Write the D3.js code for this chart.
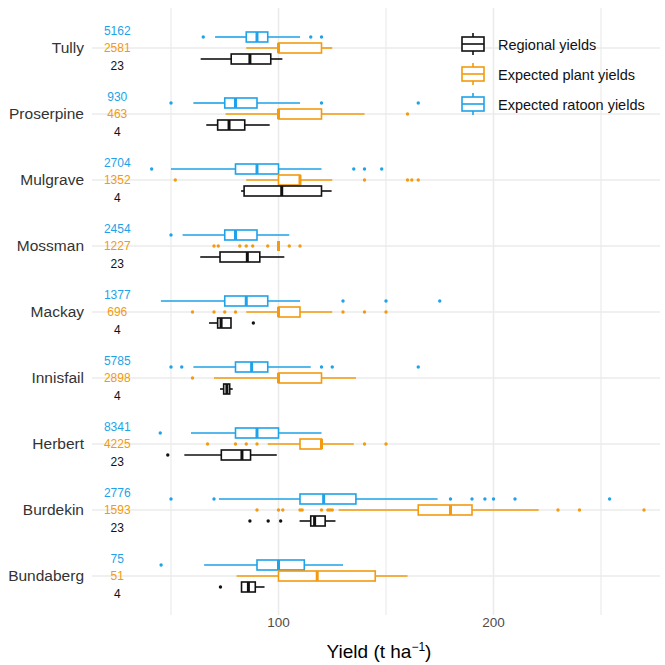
<!DOCTYPE html>
<html lang="en">
<head>
    <meta charset="UTF-8">
    <title>Yield boxplots by region</title>
    <script src="https://d3js.org/d3.v7.min.js"></script>
    <style>
        body { margin: 0; background: #fff; font-family: Arial, "Liberation Sans", sans-serif; }
        svg { display: block; }
    </style>
</head>
<body>
<div id="chart"></div>
<script>
    // regions, top to bottom
    const regions = ["Tully", "Proserpine", "Mulgrave", "Mossman", "Mackay", "Innisfail", "Herbert", "Burdekin", "Bundaberg"];

    // box stats per region: [lower whisker, q1, median, q3, upper whisker]
    const ratoonStats = [
        [70.5, 85, 90, 95, 110],
        [60.4, 75, 80, 90, 110],
        [50, 80, 90, 100, 120],
        [55.4, 75, 80, 90, 105],
        [45.3, 75, 85, 95, 110],
        [60.4, 80, 87.5, 95, 115],
        [59.3, 80, 90, 100, 120],
        [72.3, 110, 121, 136, 174],
        [65.4, 90, 100, 112, 130]
    ];
    const plantStats = [
        [85, 100, 100, 120, 125],
        [75.4, 100, 100, 120, 140],
        [85, 100, 110, 110, 125],
        [100, 100, 100, 100, 100],
        [85, 100, 100, 110, 125],
        [70, 100, 100, 120, 136],
        [95, 110, 120, 120, 135],
        [128, 165, 180, 190, 221],
        [80.5, 100, 118, 145, 160]
    ];
    const regionalStats = [
        [63.8, 78, 86.7, 96.4, 101.8],
        [66.4, 71.7, 77, 84.3, 95.9],
        [82.6, 84, 101.5, 120, 124.7],
        [63.6, 72.8, 85.5, 91.3, 102.7],
        [67.7, 71.7, 73.3, 77.9, 77.9],
        [72.8, 74.5, 76, 77.3, 78.7],
        [56.2, 73.4, 83, 87, 99.2],
        [109.8, 115, 116.8, 121.7, 126.5],
        [82.8, 82.8, 86, 89.2, 93.5]
    ];

    // outliers
    const ratoonOut = [
        [65, 115, 120],
        [50, 120, 165],
        [41, 135, 140, 148],
        [50],
        [130, 150, 175],
        [50, 55, 120, 125, 165],
        [45],
        [50, 70, 180, 190, 196, 200, 210, 254],
        [45.4]
    ];
    const plantOut = [
        [],
        [160],
        [52, 140, 160, 162, 165],
        [70, 72, 82, 85, 88, 95, 105, 110],
        [60, 70, 75, 80, 130, 140, 150],
        [60],
        [67, 80, 85, 90, 140, 150],
        [90, 100, 102, 110, 111, 120, 123, 124, 125, 230, 240, 270],
        []
    ];
    const regionalOut = [
        [], [], [], [],
        [88.3],
        [],
        [48.5],
        [86.7, 95.2, 101],
        [73]
    ];

    // sample counts
    const ratoonN = [5162, 930, 2704, 2454, 1377, 5785, 8341, 2776, 75];
    const plantN = [2581, 463, 1352, 1227, 696, 2898, 4225, 1593, 51];
    const regionalN = [23, 4, 4, 23, 4, 4, 23, 23, 4];

    const xTicks = [100, 200];
    const xMinor = [50, 150, 250];

    const colors = { ratoon: "#1ea2e8", plant: "#f39a0e", regional: "#111111" };

    const width = 665, height = 665;
    const panel = { left: 92, right: 660, top: 8, bottom: 615 };

    const svg = d3.select("#chart").append("svg")
        .attr("width", width)
        .attr("height", height);

    const x = d3.scaleLinear().domain([50, 250]).range([171, 601]);
    const y = d3.scalePoint().domain(regions).range([48, 576]);

    // dy: box offset, ly: count label offset
    const series = [
        { key: "ratoon", stats: ratoonStats, out: ratoonOut, n: ratoonN, dy: -11, ly: -17 },
        { key: "plant", stats: plantStats, out: plantOut, n: plantN, dy: 0, ly: 0 },
        { key: "regional", stats: regionalStats, out: regionalOut, n: regionalN, dy: 11, ly: 17.5 }
    ];

    // grid
    const grid = svg.append("g");
    grid.selectAll(".minor").data(xMinor).enter().append("line")
        .attr("x1", d => x(d)).attr("x2", d => x(d))
        .attr("y1", panel.top).attr("y2", panel.bottom)
        .attr("stroke", "#ebebeb").attr("stroke-width", 1.2);
    grid.selectAll(".major").data(xTicks).enter().append("line")
        .attr("x1", d => x(d)).attr("x2", d => x(d))
        .attr("y1", panel.top).attr("y2", panel.bottom)
        .attr("stroke", "#ebebeb").attr("stroke-width", 1.6);
    grid.selectAll(".hgrid").data(regions).enter().append("line")
        .attr("x1", panel.left).attr("x2", panel.right)
        .attr("y1", d => y(d)).attr("y2", d => y(d))
        .attr("stroke", "#ebebeb").attr("stroke-width", 1.6);

    const boxH = 10;

    series.forEach(s => {
        const g = svg.append("g").attr("stroke", colors[s.key]).attr("fill", colors[s.key]);
        regions.forEach((r, i) => {
            const cy = y(r) + s.dy;
            const [lo, q1, med, q3, hi] = s.stats[i];
            // whiskers
            g.append("line").attr("x1", x(lo)).attr("x2", x(q1)).attr("y1", cy).attr("y2", cy)
                .attr("stroke-width", 1.6);
            g.append("line").attr("x1", x(q3)).attr("x2", x(hi)).attr("y1", cy).attr("y2", cy)
                .attr("stroke-width", 1.6);
            // box
            g.append("rect")
                .attr("x", x(q1)).attr("y", cy - boxH / 2)
                .attr("width", Math.max(0, x(q3) - x(q1))).attr("height", boxH)
                .attr("fill", "#fff").attr("stroke-width", 1.6);
            // median
            g.append("line").attr("x1", x(med)).attr("x2", x(med))
                .attr("y1", cy - boxH / 2).attr("y2", cy + boxH / 2)
                .attr("stroke-width", 3);
            // outliers
            g.selectAll(null).data(s.out[i]).enter().append("circle")
                .attr("cx", d => x(d)).attr("cy", cy).attr("r", 1.7)
                .attr("stroke", "none");
            // count label
            svg.append("text")
                .attr("x", x(25)).attr("y", y(r) + s.ly)
                .attr("dy", "0.35em")
                .attr("text-anchor", "middle")
                .attr("font-size", 12)
                .attr("fill", colors[s.key])
                .text(s.n[i]);
        });
    });

    // y axis labels
    svg.append("g").selectAll("text").data(regions).enter().append("text")
        .attr("x", 84).attr("y", d => y(d))
        .attr("dy", "0.35em")
        .attr("text-anchor", "end")
        .attr("font-size", 15.5)
        .attr("fill", "#333")
        .text(d => d);

    // x tick labels
    svg.append("g").selectAll("text").data(xTicks).enter().append("text")
        .attr("x", d => x(d)).attr("y", 622)
        .attr("dy", "0.35em")
        .attr("text-anchor", "middle")
        .attr("font-size", 13.5)
        .attr("fill", "#4d4d4d")
        .text(d => d);

    // x title
    const title = svg.append("text")
        .attr("x", 379).attr("y", 658)
        .attr("text-anchor", "middle")
        .attr("font-size", 19)
        .attr("fill", "#000");
    title.append("tspan").text("Yield (t ha");
    title.append("tspan").attr("dy", -7).attr("font-size", 12).text("\u22121");
    title.append("tspan").attr("dy", 7).text(")");

    // legend
    const legendItems = [
        { key: "regional", label: "Regional yields" },
        { key: "plant", label: "Expected plant yields" },
        { key: "ratoon", label: "Expected ratoon yields" }
    ];
    const legend = svg.append("g");
    legendItems.forEach((d, i) => {
        const cy = 44 + i * 30;
        const cx = 473;
        const c = colors[d.key];
        const k = legend.append("g").attr("stroke", c).attr("stroke-width", 1.6).attr("fill", "none");
        k.append("line").attr("x1", cx).attr("x2", cx).attr("y1", cy - 11).attr("y2", cy + 11);
        k.append("rect").attr("x", cx - 11).attr("y", cy - 7).attr("width", 22).attr("height", 14).attr("fill", "#fff");
        k.append("line").attr("x1", cx - 11).attr("x2", cx + 11).attr("y1", cy).attr("y2", cy);
        legend.append("text")
            .attr("x", 498).attr("y", cy + 1)
            .attr("dy", "0.35em")
            .attr("font-size", 14.5)
            .attr("fill", "#111")
            .text(d.label);
    });
</script>
</body>
</html>
